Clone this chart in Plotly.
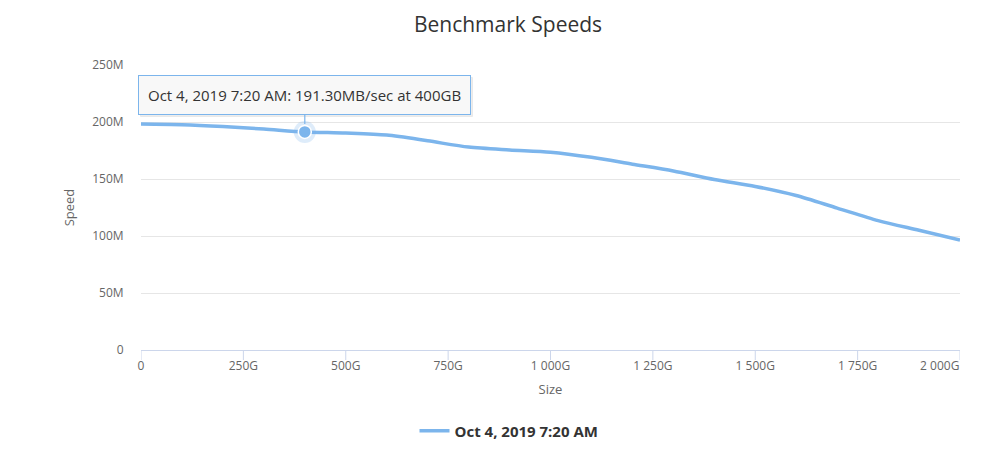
import plotly.graph_objects as go

# Data (size in GB, speed in MB/sec)
sizes = [0, 100, 200, 300, 400, 500, 600, 700, 800, 900, 1000,
         1100, 1200, 1300, 1400, 1500, 1600, 1700, 1800, 1900, 2000]
speeds = [198.2, 197.6, 196.0, 193.8, 191.3, 190.3, 188.5, 183.5, 178.0, 175.5, 173.5,
          169.0, 163.0, 157.0, 149.5, 143.5, 135.5, 124.5, 113.5, 105.0, 96.5]
series_name = "Oct 4, 2019 7:20 AM"

x_tickvals = [0, 250, 500, 750, 1000, 1250, 1500, 1750, 2000]
x_ticktext = ["0", "250G", "500G", "750G", "1 000G", "1 250G", "1 500G", "1 750G",
              "2 000G" + "\u00a0" * 13]
y_tickvals = [0, 50, 100, 150, 200, 250]
y_ticktext = ["0", "50M", "100M", "150M", "200M", "250M"]

hover_size = 400
hover_speed = 191.30

COLOR = "#7cb5ec"
FONT = "Open Sans"
PLOT_H = 285  # px height of plotting area

fig = go.Figure()
fig.add_trace(go.Scatter(
    x=sizes, y=speeds, mode="lines", name=series_name,
    line=dict(color=COLOR, width=3.5, shape="spline", smoothing=0.8),
    hoverinfo="skip",
))
# halo
fig.add_trace(go.Scatter(
    x=[hover_size], y=[hover_speed], mode="markers", showlegend=False,
    marker=dict(size=22, color="rgba(124,181,236,0.25)", line=dict(width=0)),
    hoverinfo="skip",
))
fig.add_trace(go.Scatter(
    x=[hover_size], y=[hover_speed], mode="markers", showlegend=False,
    marker=dict(size=13, color=COLOR, line=dict(width=1.5, color="white")),
    hoverinfo="skip",
))

# x-axis tick marks
for tv in x_tickvals:
    fig.add_shape(type="line", xref="x", yref="paper", x0=tv, x1=tv,
                  y0=0, y1=-10 / PLOT_H, line=dict(color="#ccd6eb", width=1), layer="below")

tip_text = f"{series_name}: {hover_speed:.2f}MB/sec at {hover_size}GB"
# tooltip shadow
fig.add_annotation(
    x=hover_size, y=hover_speed, xref="x", yref="y", text=tip_text,
    showarrow=True, ax=0, ay=-36, arrowhead=0, arrowwidth=0.1,
    arrowcolor="rgba(0,0,0,0)", standoff=8, xshift=1.5, yshift=-1.5,
    bgcolor="rgba(0,0,0,0.07)", bordercolor="rgba(0,0,0,0.05)", borderwidth=1,
    borderpad=9, font=dict(family=FONT, size=15, color="rgba(0,0,0,0)"),
)
fig.add_annotation(
    x=hover_size, y=hover_speed, xref="x", yref="y", text=tip_text,
    showarrow=True, ax=0, ay=-37, arrowhead=0, arrowwidth=1.2,
    arrowcolor=COLOR, standoff=8,
    bgcolor="rgb(248,248,248)", bordercolor=COLOR, borderwidth=1,
    borderpad=9, font=dict(family=FONT, size=15, color="#333333"),
)

fig.update_layout(
    width=1000, height=449,
    margin=dict(l=141, r=40, t=65, b=99, autoexpand=False),
    paper_bgcolor="white", plot_bgcolor="white",
    title=dict(text="Benchmark Speeds", x=0.508, xanchor="center", y=0.945, yanchor="middle",
               font=dict(family=FONT, size=21, color="#333333")),
    font=dict(family=FONT, color="#666666", size=12),
    showlegend=True,
    legend=dict(orientation="h", x=(509 - 141) / 819, xanchor="center",
                y=-81 / PLOT_H, yanchor="middle",
                font=dict(family=FONT, size=15, color="#333333", weight="bold")),
    xaxis=dict(
        range=[0, 2000], tickvals=x_tickvals, ticktext=x_ticktext,
        showgrid=False, zeroline=False, showline=True, linecolor="#ccd6eb", linewidth=1,
        ticks="outside", ticklen=5, tickcolor="rgba(0,0,0,0)",
        tickfont=dict(size=12, color="#666666"),
        title=dict(text="Size", font=dict(size=13, color="#666666"), standoff=11),
    ),
    yaxis=dict(
        range=[0, 250], tickvals=y_tickvals, ticktext=y_ticktext,
        showgrid=True, gridcolor="#e6e6e6", gridwidth=1, zeroline=False,
        ticks="outside", ticklen=14, tickcolor="rgba(0,0,0,0)",
        tickfont=dict(size=12, color="#666666"),
        title=dict(text="Speed", font=dict(size=13, color="#666666"), standoff=14),
    ),
)

fig.write_html("out.html")
